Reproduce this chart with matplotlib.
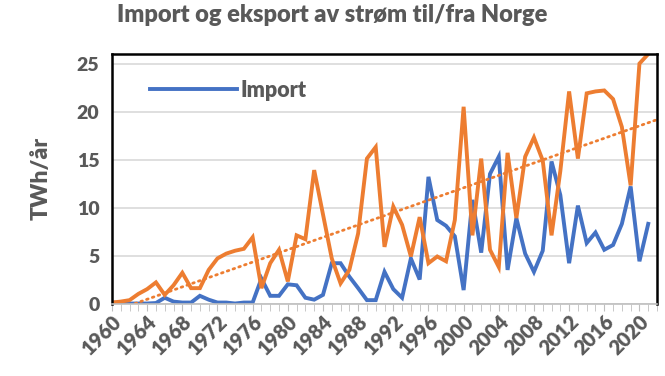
import numpy as np
import matplotlib
matplotlib.use('Agg')
import matplotlib.pyplot as plt

plt.rcParams['font.family'] = ['Lato', 'DejaVu Sans']

years = list(range(1960, 2022))

# TWh/år
import_twh = [0.1, 0.05, 0.0, 0.0, 0.0, 0.05, 0.6, 0.2, 0.1, 0.1,
              0.8, 0.4, 0.1, 0.1, 0.0, 0.1, 0.1, 2.6, 0.8, 0.8,
              2.0, 1.9, 0.6, 0.4, 0.9, 4.2, 4.2, 2.8, 1.6, 0.35,
              0.35, 3.3, 1.5, 0.6, 4.7, 2.5, 13.2, 8.7, 8.1, 7.0,
              1.4, 10.8, 5.3, 13.5, 15.3, 3.5, 8.9, 5.2, 3.3, 5.5,
              14.8, 11.3, 4.2, 10.2, 6.3, 7.4, 5.6, 6.1, 8.3, 12.2,
              4.4, 8.3]
export_twh = [0.1, 0.2, 0.35, 1.0, 1.5, 2.2, 0.9, 1.9, 3.2, 1.6,
              1.6, 3.5, 4.7, 5.2, 5.5, 5.7, 6.9, 1.6, 4.2, 5.6,
              2.3, 7.1, 6.7, 13.9, 9.3, 4.7, 2.1, 3.5, 7.3, 15.1,
              16.3, 5.9, 10.1, 8.2, 4.9, 9.0, 4.2, 4.9, 4.4, 8.7,
              20.5, 7.1, 15.1, 5.6, 3.8, 15.7, 8.9, 15.3, 17.3, 14.9,
              7.1, 13.8, 22.1, 15.1, 21.9, 22.1, 22.2, 21.3, 18.4, 12.3,
              25.0, 26.0]

blue = '#4472C4'
orange = '#ED7D31'
grey = '#595959'
wt = 'heavy'

fig = plt.figure(figsize=(6.65, 3.76), dpi=100)
ax = fig.add_axes([0.1684, 0.1928, 0.8196, 0.6636])

ax.plot(years, import_twh, color=blue, lw=2.8, label='Import', solid_joinstyle='miter')
ax.plot(years, export_twh, color=orange, lw=2.8, label='_Eksport', solid_joinstyle='miter')

# linear trendline of export, like the Excel chart
coef = np.polyfit(years, export_twh, 1)
tx = np.array([1960, 2022])
ax.plot(tx, np.polyval(coef, tx), color=orange, lw=2, ls=(0, (0.6, 1.6)),
        dash_capstyle='round')

ax.set_xlim(1960, 2022)
ax.set_ylim(0, 26)
ax.set_yticks(range(0, 26, 5))
ax.set_xticks(range(1960, 2021, 4))
ax.set_xticks(range(1960, 2023), minor=True)
ax.grid(axis='y', color='#D9D9D9', lw=1.2)
ax.set_axisbelow(True)

for lab in ax.get_yticklabels():
    lab.set_fontweight(wt)
ax.tick_params(axis='y', length=0, labelsize=14, labelcolor=grey, pad=9)
ax.tick_params(axis='x', which='major', length=5, color='#BFBFBF', labelsize=14.5,
               labelcolor=grey, pad=1)
ax.tick_params(axis='x', which='minor', length=5, color='#BFBFBF')
plt.setp(ax.get_xticklabels(), rotation=45, ha='right', rotation_mode='anchor',
         fontweight=wt)

for side in ['left', 'top', 'right']:
    ax.spines[side].set_color('black')
    ax.spines[side].set_linewidth(1.8)
ax.spines['bottom'].set_color('#BFBFBF')
ax.spines['bottom'].set_linewidth(1.2)

ax.set_ylabel('TWh/år', fontsize=16.5, fontweight=wt, color=grey, labelpad=18)
fig.suptitle('Import og eksport av strøm til/fra Norge', fontsize=17,
             fontweight=wt, color=grey, y=0.99)

leg = ax.legend(loc='upper left', bbox_to_anchor=(0.035, 0.975), frameon=False,
                handlelength=4.0, handletextpad=0.2, prop={'weight': wt, 'size': 15.5})
for t in leg.get_texts():
    t.set_color(grey)

fig.savefig('out.png', dpi=100)
